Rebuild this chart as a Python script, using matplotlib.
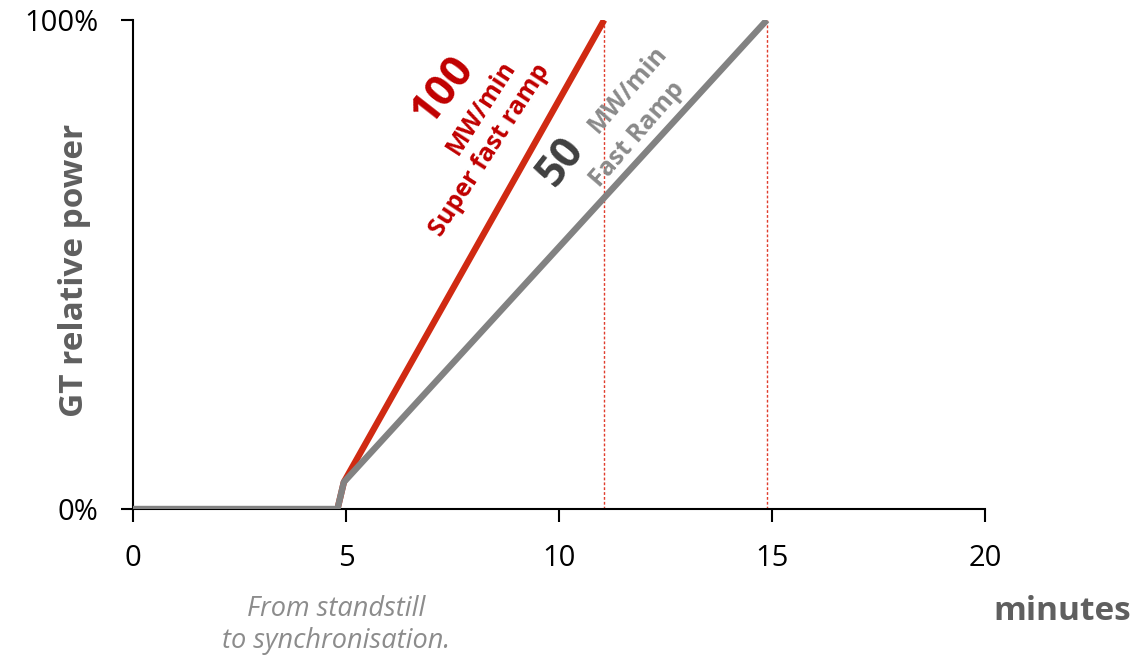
import matplotlib
matplotlib.use("Agg")
import matplotlib.pyplot as plt

plt.rcParams['font.family'] = ['Open Sans', 'DejaVu Sans']

# ramp curves (minutes, relative power)
red_x = [4.8, 4.95, 11.06]
red_y = [0.0, 0.055, 1.0]
gray_x = [0, 4.8, 4.95, 14.88]
gray_y = [0.0, 0.0, 0.055, 1.0]
end_x = [11.06, 14.88]   # where the ramps reach 100 %

x_ticks = [0, 5, 10, 15, 20]
y_ticks = [0, 1]
y_ticklabels = ["0%", "100%"]

RED_LINE = "#d02a12"
RED_TXT = "#c00000"
GRAY_LINE = "#828282"
GRAY_TXT = "#8a8a8a"
DARK = "#404040"
LABEL = "#5f5f5f"

fig = plt.figure(figsize=(11.32, 6.58), dpi=100)
ax = fig.add_axes([133/1132, 149/658, 852/1132, 489/658])

for xe in end_x:
    ax.plot([xe, xe], [0, 1], color="#e03c2c", lw=1.0, ls=(0, (2, 1.5)), zorder=1)

ax.plot(red_x, red_y, color=RED_LINE, lw=4.6, solid_capstyle="butt", zorder=2)
ax.plot(gray_x, gray_y, color=GRAY_LINE, lw=4.6, solid_capstyle="butt", zorder=3)

ax.set_xlim(0, 20)
ax.set_ylim(0, 1)
ax.set_xticks(x_ticks)
ax.set_yticks(y_ticks)
ax.set_yticklabels(y_ticklabels)
ax.tick_params(axis="both", direction="out", length=9, width=1.5, labelsize=21,
               pad=16, colors="black")
for s in ["top", "right"]:
    ax.spines[s].set_visible(False)
for s in ["left", "bottom"]:
    ax.spines[s].set_linewidth(1.5)

# ramp labels
ax.text(7.28, 0.857, "100", color=RED_TXT, fontsize=31, fontweight="bold",
        rotation=52, ha="center", va="center", rotation_mode="anchor")
ax.text(8.17, 0.821, "MW/min", color=RED_TXT, fontsize=18, fontweight="bold",
        rotation=57, ha="center", va="center", rotation_mode="anchor")
ax.text(8.38, 0.734, "Super fast ramp", color=RED_TXT, fontsize=18, fontweight="bold",
        rotation=57, ha="center", va="center", rotation_mode="anchor")

ax.text(10.05, 0.71, "50", color=DARK, fontsize=31, fontweight="bold",
        rotation=52, ha="center", va="center", rotation_mode="anchor")
ax.text(11.62, 0.857, "MW/min", color=GRAY_TXT, fontsize=18, fontweight="bold",
        rotation=49, ha="center", va="center", rotation_mode="anchor")
ax.text(11.83, 0.765, "Fast Ramp", color=GRAY_TXT, fontsize=18, fontweight="bold",
        rotation=49, ha="center", va="center", rotation_mode="anchor")

fig.text(75/1132, 1 - 270/658, "GT relative power", color=LABEL, fontsize=24,
         fontweight="bold", rotation=90, ha="center", va="center")
fig.text(1062/1132, 1 - 611/658, "minutes", color=LABEL, fontsize=24,
         fontweight="bold", ha="center", va="center")
fig.text(336/1132, 1 - 625/658, "From standstill\nto synchronisation.", color="#8c8c8c",
         fontsize=19.5, style="italic", ha="center", va="center", linespacing=1.15)

fig.savefig("out.png", dpi=100)
